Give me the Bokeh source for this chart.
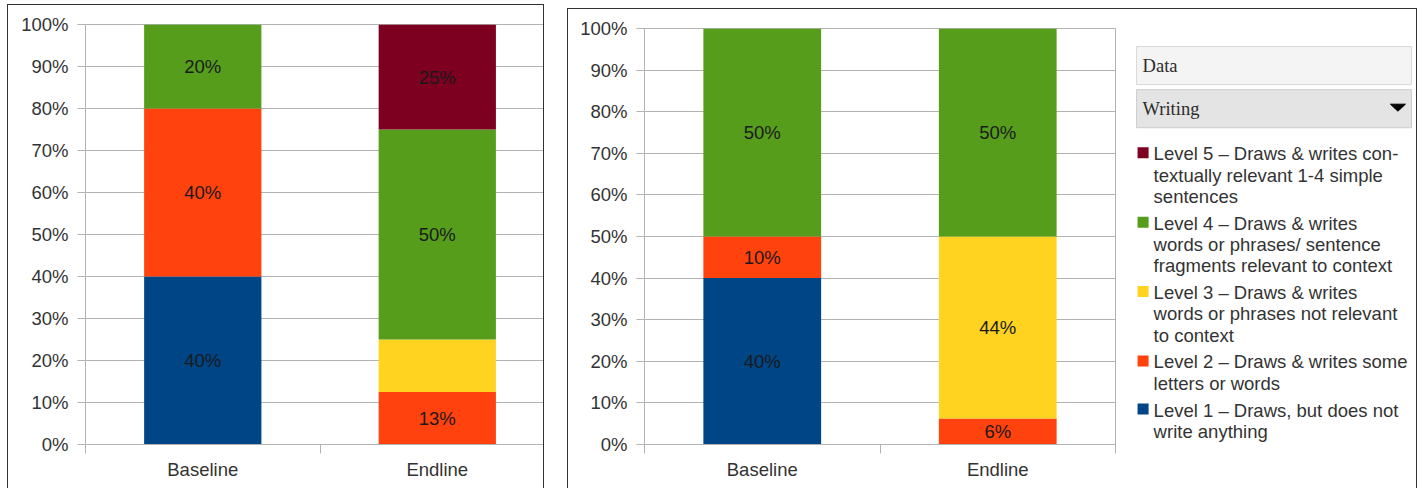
from bokeh.plotting import figure
from bokeh.layouts import row
from bokeh.models import ColumnDataSource, Range1d, FixedTicker, NumeralTickFormatter
from bokeh.core.properties import value
from bokeh.embed import file_html
from bokeh.resources import INLINE

# ---------------- data ----------------
categories = ["Baseline", "Endline"]
level_names = ["Level 1", "Level 2", "Level 3", "Level 4", "Level 5"]
level_colors = ["#004586", "#ff420e", "#ffd320", "#579d1c", "#7e0021"]

# left chart, percent per level for [Baseline, Endline]
left_level1 = [40, 0]
left_level2 = [40, 12.5]
left_level3 = [0, 12.5]
left_level4 = [20, 50]
left_level5 = [0, 25]
left_unlabelled = [("Endline", "Level 3")]

# right chart (Writing), percent per level for [Baseline, Endline]
right_level1 = [40, 0]
right_level2 = [10, 6.25]
right_level3 = [0, 43.75]
right_level4 = [50, 50]
right_level5 = [0, 0]
right_unlabelled = []

y_tick_values = [0, 10, 20, 30, 40, 50, 60, 70, 80, 90, 100]

data_box_label = "Data"
dropdown_label = "Writing"
legend_order = [4, 3, 2, 1, 0]  # Level 5 first
legend_lines = [
    ["Level 1 \u2013 Draws, but does not", "write anything"],
    ["Level 2 \u2013 Draws & writes some", "letters or words"],
    ["Level 3 \u2013 Draws & writes", "words or phrases not relevant", "to context"],
    ["Level 4 \u2013 Draws & writes", "words or phrases/ sentence", "fragments relevant to context"],
    ["Level 5 \u2013 Draws & writes con-", "textually relevant 1-4 simple", "sentences"],
]

FONT = "Liberation Sans"
SERIF = "Liberation Serif"
FS = "18.5px"
GRID = "#b3b3b3"
TEXT = "#333333"
BORDER = "1px solid #333333"

MB_TOP = 19
MB_BOTTOM = 45


def make_chart(levels, unlabelled, width, height, mbl, mbr, x_end, bar_width):
    p = figure(width=width, height=height, x_range=Range1d(0, x_end),
               y_range=Range1d(0, 1), output_backend="svg", toolbar_location=None,
               min_border_left=mbl, min_border_right=mbr, min_border_top=MB_TOP,
               min_border_bottom=MB_BOTTOM)
    xs = [i + 0.5 for i in range(len(categories))]
    data = {"x": xs}
    for name, vals in zip(level_names, levels):
        data[name] = [v / 100 for v in vals]
    src = ColumnDataSource(data)
    p.vbar_stack(level_names, x="x", width=bar_width, color=level_colors,
                 line_color=None, source=src)

    lx, ly, lt = [], [], []
    for ci, cat in enumerate(categories):
        base = 0
        for li, name in enumerate(level_names):
            v = levels[li][ci]
            if v > 0 and (cat, name) not in unlabelled:
                lx.append(xs[ci])
                ly.append((base + v / 2) / 100)
                lt.append(f"{int(v + 0.5)}%")
            base += v
    p.text(x=lx, y=ly, text=lt, text_align="center", text_baseline="middle",
           text_font=value(FONT), text_font_size=FS, text_color="#1a1a1a")

    yt = FixedTicker(ticks=[t / 100 for t in y_tick_values])
    p.yaxis.ticker = yt
    p.ygrid.ticker = yt
    p.yaxis.formatter = NumeralTickFormatter(format="0%")
    p.yaxis.axis_line_color = GRID
    p.yaxis.major_tick_line_color = GRID
    p.yaxis.major_tick_out = 8
    p.yaxis.major_tick_in = 0
    p.yaxis.minor_tick_line_color = None
    p.yaxis.minor_tick_out = 0
    p.yaxis.minor_tick_in = 0
    p.yaxis.major_label_standoff = 9

    xt = FixedTicker(ticks=xs, minor_ticks=list(range(len(categories) + 1)))
    p.xaxis.ticker = xt
    p.xaxis.major_label_overrides = {x: c for x, c in zip(xs, categories)}
    p.xaxis.axis_line_color = GRID
    p.xaxis.major_tick_line_color = None
    p.xaxis.major_tick_out = 0
    p.xaxis.major_tick_in = 0
    p.xaxis.minor_tick_line_color = GRID
    p.xaxis.minor_tick_out = 9
    p.xaxis.minor_tick_in = 0
    p.xaxis.major_label_standoff = 5

    for ax in (p.xaxis, p.yaxis):
        ax.major_label_text_font = FONT
        ax.major_label_text_font_size = FS
        ax.major_label_text_color = TEXT

    p.xgrid.visible = False
    p.ygrid.grid_line_color = GRID
    p.outline_line_color = GRID
    return p


left_levels = [left_level1, left_level2, left_level3, left_level4, left_level5]
right_levels = [right_level1, right_level2, right_level3, right_level4, right_level5]

# left panel: frame 85..543 is clipped by the panel border (category width 233.5 px)
p1 = make_chart(left_levels, left_unlabelled, 537, 484, 77, 0, 458 / 233.5, 0.5)
p1.styles = {"border-top": BORDER, "border-left": BORDER, "border-right": BORDER}

p2 = make_chart(right_levels, right_unlabelled, 553, 480, 76, 6, 2, 0.5)
p2.styles = {"border-top": BORDER, "border-left": BORDER}
p2.margin = (4, 0, 0, 23)

# ---------------- legend panel (page-pixel coordinates) ----------------
# frame spans page y 28..443 (same borders as the chart, so frames align)
leg = figure(width=297, height=480, x_range=Range1d(1120, 1416), y_range=Range1d(443, 28),
             output_backend="svg", toolbar_location=None, x_axis_location=None,
             y_axis_location=None, min_border_left=0, min_border_right=0,
             min_border_top=MB_TOP, min_border_bottom=MB_BOTTOM)
leg.grid.visible = False
leg.outline_line_color = None
leg.styles = {"border-top": BORDER, "border-right": BORDER}
leg.margin = (4, 0, 0, 0)

leg.quad(left=[1136, 1136], right=[1410, 1410], top=[46, 89], bottom=[84, 127],
         fill_color=["#f4f4f4", "#e4e4e4"], line_color=["#d9d9d9", "#cdcdcd"])
leg.text(x=[1142, 1142], y=[65, 108], text=[data_box_label, dropdown_label],
         text_align="left", text_baseline="middle", text_font=value(SERIF),
         text_font_size=FS, text_color="#2b2b2b")
leg.patch(x=[1389, 1404, 1396.5], y=[103.5, 103.5, 110.5], fill_color="black", line_color="black")

line_h = 21.2
item_gap = 5.6
y = 153
sq_l, sq_r, sq_t, sq_b = [], [], [], []
sq_c = []
tx, ty, tt = [], [], []
for li in legend_order:
    sq_l.append(1137)
    sq_r.append(1148)
    sq_t.append(y - 6.5)
    sq_b.append(y + 4.5)
    sq_c.append(level_colors[li])
    for k, line in enumerate(legend_lines[li]):
        tx.append(1153)
        ty.append(y + k * line_h)
        tt.append(line)
    y += len(legend_lines[li]) * line_h + item_gap

leg.quad(left=sq_l, right=sq_r, top=sq_t, bottom=sq_b, fill_color=sq_c, line_color=None)
leg.text(x=tx, y=ty, text=tt, text_align="left", text_baseline="middle",
         text_font=value(FONT), text_font_size=FS, text_color=TEXT)

layout = row(p1, p2, leg, spacing=0)
layout.margin = (4, 0, 0, 7)

open("out.html", "w").write(file_html(layout, INLINE))
